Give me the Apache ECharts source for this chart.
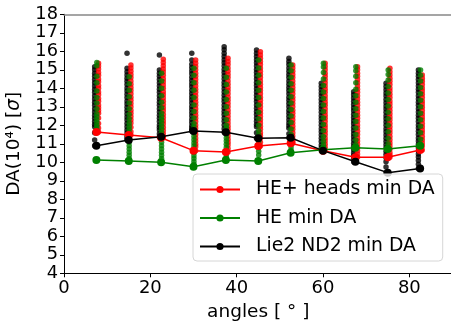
<!DOCTYPE html>
<html>
<head>
<meta charset="utf-8">
<script src="https://cdn.jsdelivr.net/npm/echarts@6/dist/echarts.min.js"></script>
<style>html,body{margin:0;padding:0;background:#fff}#c{width:451px;height:321px}</style>
</head>
<body>
<div id="c"></div>
<script>
const angles = [7.5, 15, 22.5, 30, 37.5, 45, 52.5, 60, 67.5, 75, 82.5];
const legendNames = ['HE+ heads min DA', 'HE min DA', 'Lie2 ND2 min DA'];
const xTicks = [0, 20, 40, 60, 80];
const yTicks = [4, 5, 6, 7, 8, 9, 10, 11, 12, 13, 14, 15, 16, 17, 18];

const heHeadsMinDA = [11.64, 11.47, 11.33, 10.63, 10.56, 10.88, 11.03, 10.63, 10.27, 10.27, 10.67];
const heMinDA      = [10.12, 10.07, 10.00, 9.76, 10.12, 10.07, 10.52, 10.68, 10.79, 10.72, 10.90];
const lie2Nd2MinDA = [10.90, 11.20, 11.38, 11.69, 11.62, 11.30, 11.33, 10.63, 10.03, 9.44, 9.67];

// DA scan values per angle (one inner list per angle)
const heHeadsScan = [
  [15.35,15.2,15.05,14.85,14.7,14.5,14.35,14.15,14.0,13.8,13.65,13.45,13.3,13.1,12.95,12.8,12.65,12.4,12.1,11.85,11.64],
  [15.26,15.1,14.92,14.75,14.58,14.4,14.22,14.05,13.88,13.7,13.52,13.35,13.18,13.0,12.82,12.65,12.48,12.3,12.12,11.9,11.65,11.47],
  [15.57,15.4,15.22,15.05,14.88,14.7,14.52,14.35,14.18,14.0,13.82,13.65,13.48,13.3,13.12,12.95,12.78,12.6,12.42,12.25,12.08,11.9,11.72,11.55,11.38,11.33],
  [15.53,15.36,15.18,15.0,14.82,14.65,14.48,14.3,14.12,13.95,13.78,13.6,13.42,13.25,13.08,12.9,12.72,12.55,12.38,12.2,12.02,11.85,11.68,11.5,11.32,11.15,10.98,10.84,10.63],
  [15.62,15.45,15.28,15.1,14.92,14.75,14.58,14.4,14.22,14.05,13.88,13.7,13.52,13.35,13.18,13.0,12.82,12.65,12.48,12.3,12.12,11.95,11.78,11.6,11.42,11.25,11.08,10.93,10.75,10.56],
  [15.98,15.8,15.62,15.45,15.28,15.1,14.92,14.75,14.58,14.4,14.22,14.05,13.88,13.7,13.52,13.35,13.18,13.0,12.82,12.65,12.48,12.3,12.12,11.95,11.78,11.6,11.45,11.3,11.08,10.88],
  [15.26,15.1,14.92,14.75,14.58,14.4,14.22,14.05,13.88,13.7,13.52,13.35,13.18,13.0,12.82,12.65,12.48,12.3,12.12,11.95,11.78,11.6,11.42,11.25,11.11,11.03],
  [15.35,15.18,15.0,14.82,14.65,14.48,14.3,14.12,13.95,13.78,13.6,13.42,13.25,13.08,12.9,12.72,12.55,12.38,12.2,12.02,11.85,11.68,11.5,11.32,11.15,10.98,10.8,10.63],
  [15.17,15.0,14.82,14.65,14.48,14.3,14.12,13.95,13.78,13.6,13.42,13.25,13.08,12.9,12.72,12.55,12.38,12.2,12.02,11.85,11.68,11.5,11.32,11.15,10.98,10.8,10.62,10.45,10.27],
  [15.08,14.9,14.72,14.55,14.38,14.2,14.02,13.85,13.68,13.5,13.32,13.15,12.98,12.8,12.62,12.45,12.28,12.1,11.92,11.75,11.58,11.4,11.22,11.05,10.88,10.7,10.52,10.38,10.27],
  [14.72,14.55,14.38,14.2,14.02,13.85,13.68,13.5,13.32,13.15,12.98,12.8,12.62,12.45,12.28,12.1,11.92,11.75,11.58,11.4,11.22,11.05,10.88,10.67]
];
const heScan = [
  [15.4,15.22,14.65,14.3,13.85,13.5,13.2,12.9,12.62,12.46,12.3,12.15,12.0,11.88,11.75,11.6,10.12],
  [14.63,14.25,13.9,13.55,13.2,12.9,12.6,12.35,12.12,11.95,11.78,11.6,11.42,11.25,11.08,10.9,10.72,10.55,10.38,10.2,10.07],
  [14.81,14.4,14.0,13.6,13.25,12.95,12.65,12.46,12.3,12.12,11.95,11.78,11.6,11.42,11.25,11.08,10.9,10.72,10.55,10.38,10.2,10.0],
  [15.08,14.7,14.3,13.9,13.5,13.1,12.75,12.4,12.1,11.92,11.75,11.58,11.4,11.22,11.05,10.88,10.7,10.52,10.35,10.2,10.05,9.9,9.76],
  [15.08,14.6,14.2,13.8,13.4,13.0,12.65,12.3,12.0,11.85,11.68,11.5,11.32,11.15,10.98,10.8,10.62,10.45,10.28,10.12],
  [15.53,15.1,14.7,14.3,13.9,13.5,13.1,12.7,12.35,12.0,11.7,11.48,11.3,11.12,10.95,10.78,10.6,10.4,10.07],
  [15.26,14.95,14.6,14.25,13.9,13.55,13.2,12.85,12.5,12.15,11.8,11.5,11.3,11.12,10.95,10.78,10.62,10.52],
  [15.35,15.15,14.85,14.5,14.15,13.8,13.45,13.1,12.75,12.4,12.05,11.7,11.4,11.15,10.95,10.8,10.68],
  [15.17,14.95,14.65,14.3,13.95,13.6,13.25,12.9,12.55,12.2,11.85,11.5,11.2,10.95,10.79],
  [14.99,14.75,14.45,14.1,13.75,13.4,13.05,12.7,12.35,12.0,11.65,11.3,11.0,10.72],
  [14.99,14.7,14.4,14.05,13.7,13.35,13.0,12.65,12.3,11.95,11.6,11.25,10.95,10.9]
];
const lie2Nd2Scan = [
  [15.17,15.0,14.82,14.65,14.48,14.3,14.12,13.95,13.78,13.6,13.42,13.25,13.08,12.9,12.72,12.55,12.38,12.2,12.05,11.92,11.6,11.2,10.9],
  [15.9,15.08,14.9,14.72,14.55,14.38,14.2,14.02,13.85,13.68,13.5,13.32,13.15,12.98,12.8,12.62,12.45,12.28,12.1,11.92,11.75,11.58,11.42,11.3,11.2],
  [15.8,14.99,14.82,14.65,14.48,14.3,14.12,13.95,13.78,13.6,13.42,13.25,13.08,12.9,12.72,12.55,12.38,12.2,12.02,11.88,11.75,11.55,11.38],
  [15.9,15.53,15.3,15.12,14.95,14.78,14.6,14.42,14.25,14.08,13.9,13.72,13.55,13.38,13.2,13.02,12.85,12.68,12.5,12.32,12.15,11.98,11.85,11.75,11.69],
  [16.25,16.08,15.9,15.72,15.55,15.38,15.2,15.02,14.85,14.68,14.5,14.32,14.15,13.98,13.8,13.62,13.45,13.28,13.1,12.92,12.75,12.58,12.4,12.22,12.02,11.82,11.62],
  [16.07,15.9,15.72,15.55,15.38,15.2,15.02,14.85,14.68,14.5,14.32,14.15,13.98,13.8,13.62,13.45,13.28,13.1,12.92,12.75,12.58,12.4,12.22,12.05,11.92,11.6,11.3],
  [15.62,15.45,15.28,15.1,14.92,14.75,14.58,14.4,14.22,14.05,13.88,13.7,13.52,13.35,13.18,13.0,12.82,12.65,12.48,12.3,12.12,11.98,11.84,11.55,11.33],
  [14.27,14.1,13.92,13.75,13.58,13.4,13.22,13.05,12.88,12.7,12.52,12.35,12.18,12.0,11.82,11.65,11.48,11.3,11.12,10.93,10.78,10.63],
  [13.82,13.65,13.48,13.3,13.12,12.95,12.78,12.6,12.42,12.25,12.08,11.9,11.72,11.55,11.38,11.2,11.02,10.85,10.68,10.5,10.35,10.22,10.03],
  [14.27,14.1,13.92,13.75,13.58,13.4,13.22,13.05,12.88,12.7,12.52,12.35,12.18,12.0,11.82,11.65,11.48,11.3,11.12,10.95,10.78,10.6,10.42,10.25,10.03,9.75,9.44],
  [14.99,14.82,14.65,14.48,14.3,14.12,13.95,13.78,13.6,13.42,13.25,13.08,12.9,12.72,12.55,12.38,12.2,12.02,11.85,11.68,11.5,11.32,11.15,10.98,10.8,10.62,10.45,10.28,10.1,9.9,9.67]
];

const FONT = 'DejaVu Sans';
function scanPoints(scan, shift) {
  const pts = [];
  scan.forEach((col, i) => col.forEach(v => pts.push([angles[i] + shift, v])));
  return pts;
}
function linePoints(vals) { return angles.map((a, i) => [a, vals[i]]); }

const chart = echarts.init(document.getElementById('c'), null, {renderer: 'canvas'});
const scatterBase = {type: 'scatter', symbol: 'circle', symbolSize: 5.5, silent: true, z: 2};
const lineBase = {type: 'line', symbol: 'circle', symbolSize: 8, showSymbol: true, lineStyle: {width: 1.5}, z: 3, silent: true};

chart.setOption({
  animation: false,
  backgroundColor: '#fff',
  textStyle: {fontFamily: FONT},
  grid: {left: 64, top: 14.3, width: 388.5, height: 259, containLabel: false, outerBoundsMode: 'none'},
  legend: {
    data: legendNames,
    orient: 'vertical',
    left: 193, top: 174,
    itemWidth: 40, itemHeight: 9, itemGap: 9.5,
    padding: [6, 8, 5, 6],
    borderColor: '#d6d6d6', borderWidth: 1, borderRadius: 4,
    backgroundColor: 'rgba(255,255,255,0.8)',
    textStyle: {fontFamily: FONT, fontSize: 18.8, color: '#000', padding: [0, 0, 0, 11]},
    selectedMode: false
  },
  xAxis: [{
    type: 'value', min: 0, max: 90, interval: 20,
    name: 'angles [ ° ]', nameLocation: 'middle', nameGap: 29,
    nameTextStyle: {fontFamily: FONT, fontSize: 18.5, color: '#000'},
    axisLine: {show: true, onZero: false, lineStyle: {color: '#000', width: 1}},
    axisTick: {show: true, inside: false, length: 4, lineStyle: {color: '#000'}},
    axisLabel: {fontFamily: FONT, fontSize: 18, color: '#000', margin: 6, showMaxLabel: false,
      formatter: v => xTicks.includes(v) ? String(v) : ''},
    splitLine: {show: false}
  }, {
    type: 'value', min: 0, max: 90, position: 'top',
    axisLine: {show: true, onZero: false, lineStyle: {color: '#888', width: 1.5}},
    axisTick: {show: false}, axisLabel: {show: false}, splitLine: {show: false}
  }],
  yAxis: {
    type: 'value', min: 4, max: 18, interval: 1,
    name: 'DA(10⁴) [{i|σ}]', nameLocation: 'middle', nameGap: 40, nameRotate: 90,
    nameTextStyle: {fontFamily: FONT, fontSize: 18.5, color: '#000',
      rich: {i: {fontFamily: FONT, fontSize: 18.5, fontStyle: 'italic', color: '#000'}}},
    axisLine: {show: true, onZero: false, lineStyle: {color: '#000', width: 1}},
    axisTick: {show: true, inside: false, length: 4, lineStyle: {color: '#000'}},
    axisLabel: {fontFamily: FONT, fontSize: 17.8, color: '#000', margin: 6,
      formatter: v => yTicks.includes(v) ? String(v) : ''},
    splitLine: {show: false}
  },
  series: [
    Object.assign({}, scatterBase, {name: 'Lie2 ND2 scan', itemStyle: {color: '#000000'}, data: scanPoints(lie2Nd2Scan, -0.4)}),
    Object.assign({}, scatterBase, {name: 'HE+ heads scan', itemStyle: {color: '#ff0000'}, data: scanPoints(heHeadsScan, 0.5)}),
    Object.assign({}, scatterBase, {name: 'HE scan', itemStyle: {color: '#008000'}, data: scanPoints(heScan, 0.1)}),
    Object.assign({}, lineBase, {name: legendNames[0], itemStyle: {color: '#ff0000'}, lineStyle: {color: '#ff0000', width: 1.5}, data: linePoints(heHeadsMinDA)}),
    Object.assign({}, lineBase, {name: legendNames[1], itemStyle: {color: '#008000'}, lineStyle: {color: '#008000', width: 1.5}, data: linePoints(heMinDA)}),
    Object.assign({}, lineBase, {name: legendNames[2], itemStyle: {color: '#000000'}, lineStyle: {color: '#000000', width: 1.5}, data: linePoints(lie2Nd2MinDA)})
  ]
});
</script>
</body>
</html>
